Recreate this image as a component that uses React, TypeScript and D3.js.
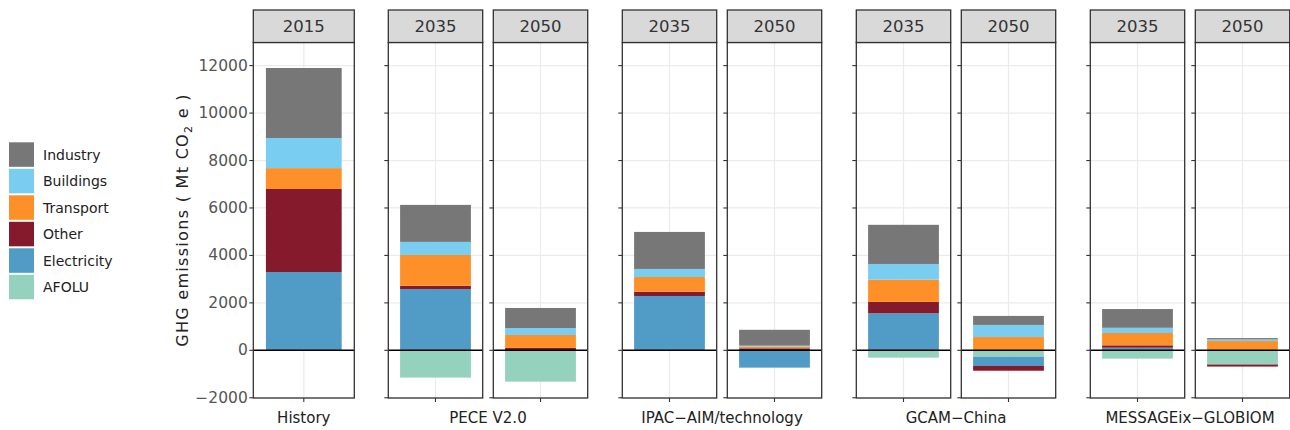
import React from "react";
import * as d3 from "d3";

// ---- data ----
const sectors = ["Industry", "Buildings", "Transport", "Other", "Electricity", "AFOLU"];
const sectorColors = ["#767776", "#78CDF1", "#FD9029", "#851A2C", "#519BC7", "#94D2BE"];
const stackKeys = ["AFOLU", "Electricity", "Other", "Transport", "Buildings", "Industry"];

const models = ["History", "PECE V2.0", "IPAC−AIM/technology", "GCAM−China", "MESSAGEix−GLOBIOM"];
const panelModels = [
  "History",
  "PECE V2.0", "PECE V2.0",
  "IPAC−AIM/technology", "IPAC−AIM/technology",
  "GCAM−China", "GCAM−China",
  "MESSAGEix−GLOBIOM", "MESSAGEix−GLOBIOM",
];
const panelYears = ["2015", "2035", "2050", "2035", "2050", "2035", "2050", "2035", "2050"];

const industry = [2950, 1560, 845, 1560, 670, 1650, 380, 790, 55];
const buildings = [1270, 550, 295, 340, 40, 660, 510, 220, 70];
const transport = [880, 1300, 545, 620, 70, 940, 560, 520, 390];
const other = [3500, 140, 100, 180, 85, 480, -200, 100, -85];
const electricity = [3300, 2580, 0, 2290, -730, 1560, -390, 110, 0];
const afolu = [0, -1150, -1320, 0, 0, -310, -270, -350, -600];

const yTicks = [-2000, 0, 2000, 4000, 6000, 8000, 10000, 12000];

// ---- layout ----
const W = 1290, H = 430;
const STRIP_TOP = 10, PANEL_TOP = 42.5, PANEL_BOTTOM = 398;
const FONT = "'DejaVu Sans', sans-serif";

function panelBox(i: number) {
  if (i === 0) return { x: 253.3, w: 101 };
  const g = Math.floor((i - 1) / 2), j = (i - 1) % 2;
  return { x: 388.3 + 234 * g + j * 105, w: 94.4 };
}

const fmt = (v: number) => (v < 0 ? "\u2212" + Math.abs(v) : String(v));

export default function App() {
  const rows = panelYears.map((_, i) => ({
    Industry: industry[i],
    Buildings: buildings[i],
    Transport: transport[i],
    Other: other[i],
    Electricity: electricity[i],
    AFOLU: afolu[i],
  }));
  const stacked = d3.stack<any>().keys(stackKeys).offset(d3.stackOffsetDiverging)(rows);

  const y = d3.scaleLinear().domain([-2010, 12975]).range([PANEL_BOTTOM, PANEL_TOP]);
  const color = d3.scaleOrdinal<string, string>().domain(sectors).range(sectorColors);

  return (
    <svg width={W} height={H} style={{ position: "absolute", left: 0, top: 0, background: "#fff" }} fontFamily={FONT}>
      {panelYears.map((yr, i) => {
        const { x: px, w } = panelBox(i);
        const xb = d3.scaleBand<string>().domain([panelModels[i]]).range([px, px + w]).paddingInner(0.25).paddingOuter(0.125);
        const bx = xb(panelModels[i])!;
        const bw = xb.bandwidth();
        const cx = px + w / 2;
        return (
          <g key={i}>
            <rect x={px} y={PANEL_TOP} width={w} height={PANEL_BOTTOM - PANEL_TOP} fill="#fff" />
            {yTicks.map((t) => (
              <line key={t} x1={px} x2={px + w} y1={y(t)} y2={y(t)} stroke="#EBEBEB" strokeWidth={1.2} />
            ))}
            <line x1={cx} x2={cx} y1={PANEL_TOP} y2={PANEL_BOTTOM} stroke="#EBEBEB" strokeWidth={1.2} />
            {stacked.map((s) => {
              const d = s[i];
              if (d[0] === d[1]) return null;
              return (
                <rect key={s.key} x={bx} width={bw} y={y(Math.max(d[0], d[1]))}
                  height={Math.abs(y(d[0]) - y(d[1]))} fill={color(s.key)} />
              );
            })}
            <line x1={px} x2={px + w} y1={y(0)} y2={y(0)} stroke="#000" strokeWidth={1.6} />
            <rect x={px} y={PANEL_TOP} width={w} height={PANEL_BOTTOM - PANEL_TOP} fill="none" stroke="#333" strokeWidth={1.3} />
            <rect x={px} y={STRIP_TOP} width={w} height={PANEL_TOP - STRIP_TOP} fill="#D9D9D9" stroke="#333" strokeWidth={1.3} />
            <text x={cx} y={(STRIP_TOP + PANEL_TOP) / 2} textAnchor="middle" dominantBaseline="central" fontSize={16.5} fill="#333">{yr}</text>
            {yTicks.map((t) => (
              <line key={"t" + t} x1={px - 4} x2={px} y1={y(t)} y2={y(t)} stroke="#333" strokeWidth={1.1} />
            ))}
            <line x1={cx} x2={cx} y1={PANEL_BOTTOM} y2={PANEL_BOTTOM + 4} stroke="#333" strokeWidth={1.1} />
            {i === 0 && yTicks.map((t) => (
              <text key={"l" + t} x={px - 5.5} y={y(t)} textAnchor="end" dominantBaseline="central" fontSize={15.5} fill="#555">{fmt(t)}</text>
            ))}
          </g>
        );
      })}
      {models.map((m) => {
        const idx = panelModels.map((pm, i) => (pm === m ? i : -1)).filter((i) => i >= 0);
        const first = panelBox(idx[0]);
        const last = panelBox(idx[idx.length - 1]);
        const cx = (first.x + last.x + last.w) / 2;
        return (
          <text key={m} x={cx} y={423} textAnchor="middle" fontSize={15} fill="#222">{m}</text>
        );
      })}
      <text transform={`translate(188,220) rotate(-90)`} textAnchor="middle" fontSize={16} letterSpacing={1.3} fill="#222">
        GHG emissions ( Mt CO<tspan fontSize={11} dy={4}>2</tspan><tspan dy={-4}> e )</tspan>
      </text>
      {sectors.map((s, k) => (
        <g key={s}>
          <rect x={9} y={142.3 + k * 26.5} width={25} height={24.5} fill={color(s)} />
          <text x={43} y={142.3 + k * 26.5 + 12.5} dominantBaseline="central" fontSize={14} fill="#222">{s}</text>
        </g>
      ))}
    </svg>
  );
}
